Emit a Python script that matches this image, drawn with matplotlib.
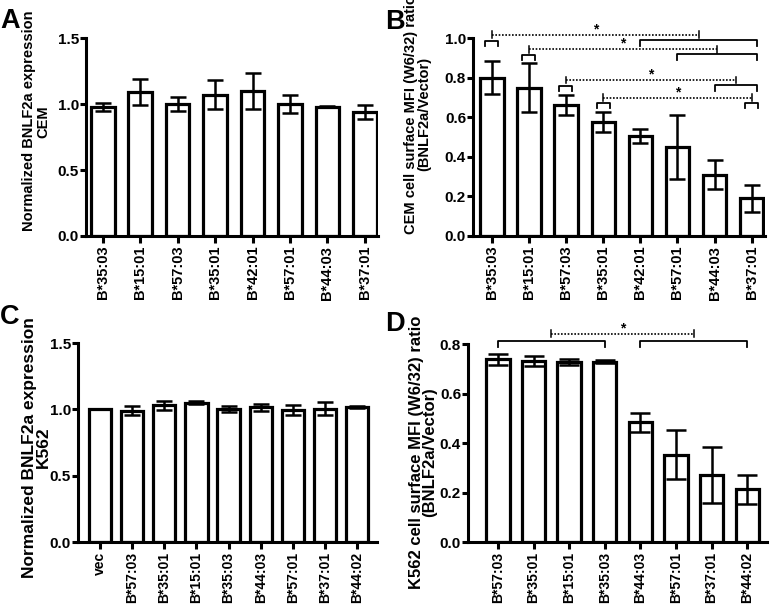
import numpy as np
import matplotlib
matplotlib.use('Agg')
import matplotlib.pyplot as plt

plt.rcParams['font.family'] = ['Liberation Sans', 'DejaVu Sans']
plt.rcParams['font.weight'] = 'bold'

# 資料
cem_labels = ['B*35:03', 'B*15:01', 'B*57:03', 'B*35:01', 'B*42:01', 'B*57:01', 'B*44:03', 'B*37:01']
cem_expr = [0.98, 1.09, 1.00, 1.07, 1.10, 1.00, 0.98, 0.94]
cem_expr_err = [0.03, 0.10, 0.05, 0.11, 0.135, 0.065, 0.005, 0.055]
cem_mfi = [0.80, 0.75, 0.66, 0.575, 0.505, 0.45, 0.31, 0.19]
cem_mfi_err = [0.085, 0.125, 0.05, 0.05, 0.035, 0.16, 0.072, 0.07]

k562_expr_labels = ['vec', 'B*57:03', 'B*35:01', 'B*15:01', 'B*35:03', 'B*44:03', 'B*57:01', 'B*37:01', 'B*44:02']
k562_expr = [1.00, 0.99, 1.03, 1.05, 1.005, 1.015, 0.995, 1.005, 1.015]
k562_expr_err = [0.0, 0.035, 0.033, 0.012, 0.022, 0.025, 0.035, 0.05, 0.008]
k562_labels = ['B*57:03', 'B*35:01', 'B*15:01', 'B*35:03', 'B*44:03', 'B*57:01', 'B*37:01', 'B*44:02']
k562_mfi = [0.739, 0.732, 0.73, 0.73, 0.484, 0.354, 0.27, 0.213]
k562_mfi_err = [0.022, 0.019, 0.012, 0.006, 0.038, 0.1, 0.113, 0.06]

# 顯著性標記 (B): 單一組 vs 一群組
b_single = [0, 1, 2, 3]
b_group = [(4, 7), (5, 7), (6, 7), (7, 7)]
b_single_y = [0.985, 0.914, 0.758, 0.672]
b_group_y = [0.99, 0.918, 0.761, 0.672]
b_line_y = [1.017, 0.943, 0.788, 0.698]
# 顯著性標記 (D): 群組 vs 群組
d_group1 = (0, 3)
d_group2 = (4, 7)
d_group_y = 0.813
d_line_y = 0.843


def bar_panel(ax, labels, vals, errs, yticks, xlim, width, cap, xfs):
    x = np.arange(len(vals))
    ax.bar(x, vals, width=width, color='white', edgecolor='black', linewidth=2.3, zorder=2)
    ax.errorbar(x, vals, yerr=errs, fmt='none', ecolor='black', elinewidth=1.8,
                capsize=cap, capthick=1.8, zorder=3)
    ax.set_xticks(x)
    ax.set_xticklabels(labels, rotation=90, fontsize=xfs, fontweight='bold')
    ax.set_yticks(yticks)
    ax.set_yticklabels(['%.1f' % t for t in yticks], fontsize=11, fontweight='bold')
    ax.set_ylim(yticks[0], yticks[-1])
    ax.set_xlim(*xlim)
    for s in ['top', 'right']:
        ax.spines[s].set_visible(False)
    for s in ['left', 'bottom']:
        ax.spines[s].set_linewidth(2.2)
    ax.tick_params(axis='both', width=2.2, length=4, direction='out')
    ax.tick_params(axis='y', pad=1)
    ax.tick_params(axis='x', length=5, pad=2)


def bracket(ax, x0, x1, y, leg):
    ax.plot([x0, x0, x1, x1], [y - leg, y, y, y - leg], color='black', lw=1.3, clip_on=False, zorder=4)


def dotted(ax, x0, x1, y, tick):
    ax.plot([x0, x1], [y, y], color='black', lw=1.2, linestyle=(0, (1, 1)), clip_on=False, zorder=4)
    for xx in (x0, x1):
        ax.plot([xx, xx], [y - tick, y + tick], color='black', lw=1.1, clip_on=False, zorder=4)
    ax.annotate('*', xy=((x0 + x1) / 2, y), xytext=(0, -1), textcoords='offset points',
                ha='center', va='bottom', fontsize=10, fontweight='bold', annotation_clip=False)


fig = plt.figure(figsize=(7.71, 6.05), dpi=100)

axA = fig.add_axes([0.1115, 0.610, 0.3787, 0.327])
bar_panel(axA, cem_labels, cem_expr, cem_expr_err, [0.0, 0.5, 1.0, 1.5], (-0.45, 7.35), 0.63, 6, 10.5)
axA.set_ylabel('Normalized BNLF2a expression\nCEM', fontsize=10.5, fontweight='bold', linespacing=1.0)
axA.yaxis.set_label_coords(-0.123, 0.58)

axB = fig.add_axes([0.6135, 0.610, 0.3787, 0.327])
bar_panel(axB, cem_labels, cem_mfi, cem_mfi_err, [0.0, 0.2, 0.4, 0.6, 0.8, 1.0], (-0.51, 7.36), 0.63, 6, 10.5)
axB.set_ylabel('CEM cell surface MFI (W6/32) ratio\n(BNLF2a/Vector)', fontsize=10.5, fontweight='bold', linespacing=1.0)
axB.yaxis.set_label_coords(-0.142, 0.615)
for i, (g0, g1), ys, yg, yl in zip(b_single, b_group, b_single_y, b_group_y, b_line_y):
    bracket(axB, i - 0.18, i + 0.17, ys, 0.026)
    if g0 == g1:
        bracket(axB, g0 - 0.18, g1 + 0.17, yg, 0.026)
        right = g0
    else:
        bracket(axB, g0, g1 + 0.15, yg, 0.03)
        right = (g0 + g1 + 0.15) / 2
    dotted(axB, i, right, yl, 0.017)

axC = fig.add_axes([0.1012, 0.104, 0.388, 0.329])
bar_panel(axC, k562_expr_labels, k562_expr, k562_expr_err, [0.0, 0.5, 1.0, 1.5], (-0.69, 8.63), 0.69, 6, 10)
axC.set_ylabel('Normalized BNLF2a expression\nK562', fontsize=12.5, fontweight='bold', linespacing=0.9)
axC.yaxis.set_label_coords(-0.09, 0.475)

axD = fig.add_axes([0.607, 0.104, 0.388, 0.327])
bar_panel(axD, k562_labels, k562_mfi, k562_mfi_err, [0.0, 0.2, 0.4, 0.6, 0.8], (-0.84, 7.56), 0.655, 7, 10)
axD.set_ylabel('K562 cell surface MFI (W6/32) ratio\n(BNLF2a/Vector)', fontsize=12, fontweight='bold', linespacing=0.9)
axD.yaxis.set_label_coords(-0.102, 0.455)
bracket(axD, d_group1[0], d_group1[1], d_group_y, 0.024)
bracket(axD, d_group2[0], d_group2[1], d_group_y, 0.024)
dotted(axD, sum(d_group1) / 2, sum(d_group2) / 2, d_line_y, 0.014)

for letter, (fx, fy) in zip('ABCD', [(0.0, 0.966), (0.4994, 0.963), (0.0, 0.476), (0.4994, 0.465)]):
    fig.text(fx, fy, letter, fontsize=19.5, fontweight='bold', ha='left', va='center')

fig.savefig('out.png', dpi=100)
